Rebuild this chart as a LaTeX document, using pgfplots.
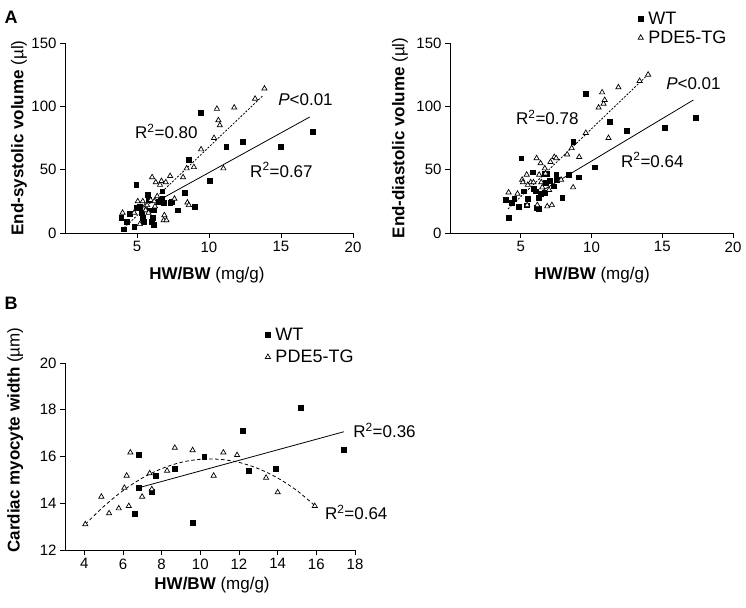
\documentclass[border=0pt]{standalone}
\usepackage{fontspec}
\setmainfont{Liberation Sans}
\usepackage{pgfplots}
\pgfplotsset{compat=1.18}

\newcommand{\lgf}{\fontsize{18}{20}\selectfont\hspace{5pt}}
\pgfplotsset{
  panel/.style={
    scale only axis,
    anchor=south west,
    axis x line*=bottom,
    axis y line*=left,
    axis line style={-, line width=0.9pt, black},
    tick align=outside,
    major tick length=5pt,
    tick style={line width=0.9pt, black},
    /pgf/number format/assume math mode=true,
    tick label style={font=\fontsize{15}{17}\selectfont},
    label style={font=\fontsize{17}{20}\selectfont},
    clip=false,
  },
  wt/.style={only marks, mark=square*, mark size=2.4pt, mark options={fill=black, draw=black}},
  tg/.style={only marks, mark=triangle*, mark size=3pt, mark options={fill=white, draw=black, line width=0.7pt}},
}
\tikzset{ann/.style={font=\fontsize{17}{19}\selectfont, anchor=west, inner sep=0pt}}

\begin{document}
\begin{tikzpicture}
\useasboundingbox (0,0) rectangle (746pt,607pt);

\node[font=\bfseries\fontsize{18}{20}\selectfont] at (11pt,590pt) {A};
\node[font=\bfseries\fontsize{18}{20}\selectfont] at (11pt,304pt) {B};

% ---------- Panel A left ----------
\begin{axis}[panel, at={(65pt,374pt)}, width=288pt, height=190pt,
  xmin=0, xmax=20, ymin=0, ymax=150,
  xtick={5,10,15,20}, ytick={0,50,100,150},
  xlabel={\textbf{HW/BW} (mg/g)},
  ylabel={\textbf{End-systolic volume} (µl)},
  xlabel style={at={(axis description cs:0.493,-0.221)}, anchor=center},
  ylabel style={at={(axis description cs:-0.16,0.5)}, anchor=center},
]
\addplot[wt] coordinates {
(3.9,12) (4.1,3) (4.3,9) (4.5,15) (4.8,5) (4.95,38) (5.0,20) (5.2,21)
(5.35,16) (5.4,12) (5.45,9) (5.75,30) (5.8,26) (5.85,18) (6.0,9) (6.1,12)
(6.15,6.6) (6.2,18) (6.5,25) (6.65,26) (6.75,33) (6.75,27) (6.85,24) (7.3,24)
(7.4,25) (7.8,18) (8.3,32) (8.6,58) (9.0,21) (9.45,95) (10.05,41) (11.2,68)
(12.35,72) (15.0,68) (17.2,80)};
\addplot[tg] coordinates {
(4.0,16) (4.8,16) (5.05,25) (5.2,7) (5.4,25) (5.55,21) (5.6,18) (5.7,22)
(5.8,16) (5.95,26) (6.05,44) (6.2,25) (6.25,21) (6.3,40) (6.4,29) (6.6,38)
(6.7,41) (6.85,10) (6.9,14) (7.05,10) (7.0,40) (7.3,45) (7.6,27) (8.2,44)
(8.45,51) (8.5,24) (8.6,22) (8.95,52) (9.45,66) (10.35,75) (10.55,98) (10.65,89)
(10.75,85) (11.0,51) (11.75,99) (13.2,106) (13.85,114)};
\addplot[black, line width=0.8pt] coordinates {(6.6,26.4) (17.0,91.6)};
\addplot[black, line width=0.8pt, dash pattern=on 2pt off 1.5pt] coordinates {(4.1,4) (13.7,108)};
\node[ann] at (axis cs:4.86,80) {R\textsuperscript{2}=0.80};
\node[ann] at (axis cs:14.8,105) {\textit{P}<0.01};
\node[ann] at (axis cs:12.85,49.7) {R\textsuperscript{2}=0.67};
\end{axis}

% ---------- Panel A right ----------
\begin{axis}[panel, at={(450pt,374pt)}, width=283pt, height=190pt,
  xmin=0, xmax=20, ymin=0, ymax=150,
  xtick={5,10,15,20}, ytick={0,50,100,150},
  xlabel={\textbf{HW/BW} (mg/g)},
  ylabel={\textbf{End-diastolic volume} (µl)},
  xlabel style={at={(axis description cs:0.502,-0.221)}, anchor=center},
  ylabel style={at={(axis description cs:-0.177,0.5)}, anchor=center},
  legend style={at={(axis description cs:0.664,1.165)}, anchor=north west, draw=none, fill=none,
    font=\fontsize{18}{20}\selectfont, inner sep=0pt, row sep=5pt, column sep=0pt, nodes={inner sep=0pt}},
  legend cell align=left,
]
\addplot[wt] coordinates {
(3.94,26) (4.15,12) (4.35,24) (4.53,27) (4.84,21) (5.03,59) (5.23,33) (5.4,22)
(5.5,27) (5.84,48) (5.93,35) (6.03,33) (6.12,20) (6.25,19) (6.27,28) (6.4,31)
(6.65,47) (6.7,32) (6.75,40) (6.83,47) (7.05,41) (7.35,37) (7.5,46) (7.55,42)
(7.93,28) (8.4,46) (8.7,72) (9.1,44) (9.6,110) (10.2,52) (11.3,88) (12.5,81)
(15.15,83) (17.35,91)};
\addlegendentry{\lgf WT}
\addplot[tg] coordinates {
(4.14,32) (4.77,31) (5.1,42) (5.15,40) (5.42,46) (5.45,22) (5.5,38) (5.7,40)
(5.9,40) (6.12,59) (6.17,22) (6.3,46) (6.4,55) (6.45,40) (6.52,36) (6.7,51)
(6.75,47) (6.87,21) (7.0,34) (7.1,56) (7.2,22) (7.37,60) (7.5,59) (7.85,42)
(8.28,62) (8.6,67) (8.7,36) (9.13,60) (9.6,79) (10.5,99) (10.75,111) (10.85,102)
(10.93,105) (11.2,75) (11.9,115) (13.4,120) (14.0,125)};
\addlegendentry{\lgf PDE5-TG}
\addplot[black, line width=0.8pt, forget plot] coordinates {(6.6,34) (17.2,105)};
\addplot[black, line width=0.8pt, dash pattern=on 2pt off 1.5pt, forget plot] coordinates {(4.1,19) (13.8,123)};
\node[ann] at (axis cs:4.66,91.5) {R\textsuperscript{2}=0.78};
\node[ann] at (axis cs:15.27,118) {\textit{P}<0.01};
\node[ann] at (axis cs:12.08,57.6) {R\textsuperscript{2}=0.64};
\end{axis}

% ---------- Panel B ----------
\begin{axis}[panel, at={(65pt,57pt)}, width=290pt, height=187pt,
  xmin=3, xmax=18, ymin=12, ymax=20,
  xtick={4,6,8,10,12,14,16,18}, ytick={12,14,16,18,20},
  xlabel={\textbf{HW/BW} (mg/g)},
  ylabel={\textbf{Cardiac myocyte width} (µm)},
  xlabel style={at={(axis description cs:0.507,-0.187)}, anchor=center},
  ylabel style={at={(axis description cs:-0.172,0.588)}, anchor=center},
  legend style={at={(axis description cs:0.69,1.188)}, anchor=north west, draw=none, fill=none,
    font=\fontsize{18}{20}\selectfont, inner sep=0pt, row sep=8pt, column sep=0pt, nodes={inner sep=0pt}},
  legend cell align=left,
]
\addplot[wt] coordinates {
(6.8,16.09) (6.59,13.57) (6.8,14.68) (7.49,14.49) (7.68,15.18) (8.68,15.49)
(10.2,15.99) (9.59,13.17) (12.19,17.1) (12.5,15.39) (13.9,15.49) (15.2,18.1) (17.43,16.3)};
\addlegendentry{\lgf WT}
\addplot[tg] coordinates {
(4.05,13.1) (4.88,14.28) (5.28,13.57) (5.78,13.78) (6.3,13.88) (6.07,14.66)
(6.19,15.18) (6.38,16.17) (6.99,14.28) (7.49,14.6) (7.38,15.28) (8.28,15.39)
(8.68,16.37) (9.6,16.27) (10.69,15.18) (11.19,16.17) (11.9,16.06) (13.4,15.09)
(14.0,14.47) (15.92,13.88)};
\addlegendentry{\lgf PDE5-TG}
\addplot[black, line width=0.8pt, forget plot] coordinates {(6.8,14.66) (17.43,17.06)};
\addplot[black, line width=0.8pt, dash pattern=on 3.5pt off 2.5pt, smooth, forget plot] coordinates {
(4.05,13.1) (5,13.86) (6,14.54) (7,15.08) (8,15.48) (9,15.75) (10,15.88) (11,15.88)
(12,15.75) (13,15.48) (14,15.08) (15,14.54) (15.92,13.9)};
\node[ann] at (axis cs:17.9,17.13) {R\textsuperscript{2}=0.36};
\node[ann] at (axis cs:16.44,13.62) {R\textsuperscript{2}=0.64};
\end{axis}
\end{tikzpicture}
\end{document}
